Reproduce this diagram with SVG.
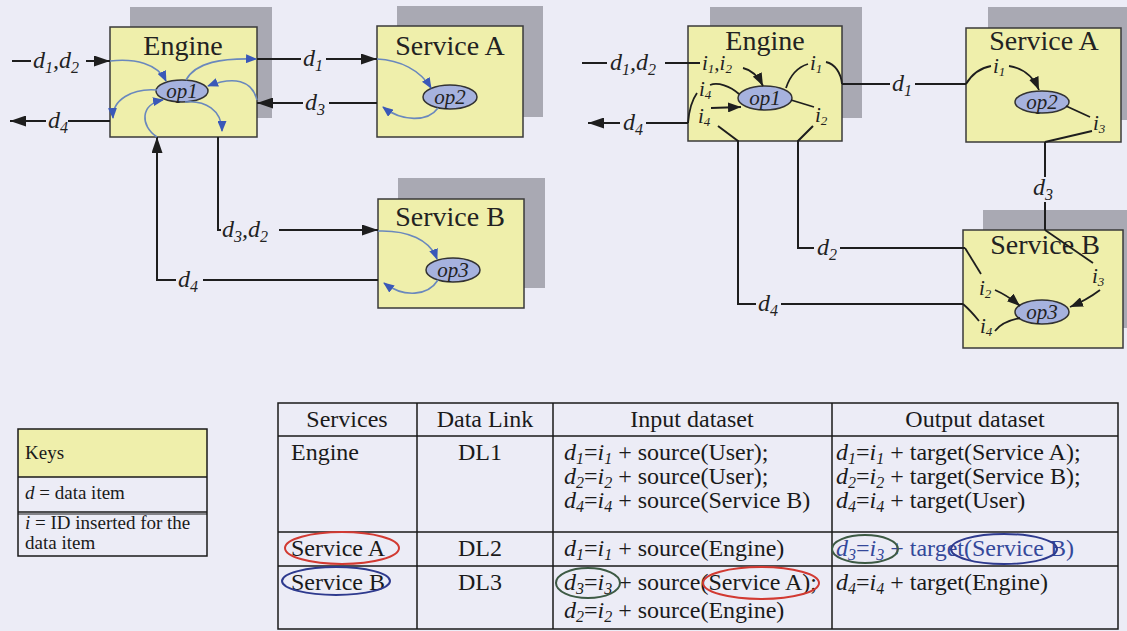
<svg xmlns="http://www.w3.org/2000/svg" width="1127" height="631" viewBox="0 0 1127 631">
<defs>
<style>
.sh{fill:#a9a9b3}
.box{fill:#efefab;stroke:#3a3a3a;stroke-width:1.5}
.op{fill:#a6b2de;stroke:#333;stroke-width:1.5}
.ttl{font-family:"Liberation Serif",serif;font-size:28px;fill:#222;text-anchor:middle}
.opl{font-family:"Liberation Serif",serif;font-size:21px;font-style:italic;fill:#222;text-anchor:middle}
.lab{font-family:"Liberation Serif",serif;font-size:24px;font-style:italic;fill:#222}
.sub{font-size:16px}
.il{font-family:"Liberation Serif",serif;font-size:21px;font-style:italic;fill:#222}
.isub{font-size:13px}
.c{fill:none;stroke:#1e1e1e;stroke-width:2}
.cs{fill:none;stroke:#1e1e1e;stroke-width:1.8}
.bc{fill:none;stroke:#6a88bd;stroke-width:1.6}
.t{font-family:"Liberation Serif",serif;font-size:24px;fill:#1a1a1a}
.k{font-family:"Liberation Serif",serif;font-size:19px;fill:#1a1a1a}
.i{font-style:italic}
.s{font-size:16px;font-style:italic}
.tl{fill:none;stroke:#1a1a1a;stroke-width:1.5}
</style>
<marker id="ah" viewBox="0 0 16 11" refX="16" refY="5.5" markerWidth="16" markerHeight="11" markerUnits="userSpaceOnUse" orient="auto"><path d="M0,0 L16,5.5 L0,11 z" fill="#1e1e1e"/></marker>
<marker id="as" viewBox="0 0 13 10" refX="13" refY="5" markerWidth="13" markerHeight="10" markerUnits="userSpaceOnUse" orient="auto"><path d="M0,0 L13,5 L0,10 z" fill="#1e1e1e"/></marker>
<marker id="ab" viewBox="0 0 11 9" refX="10" refY="4.5" markerWidth="11" markerHeight="9" markerUnits="userSpaceOnUse" orient="auto"><path d="M0,0 L11,4.5 L0,9 z" fill="#3a58b8"/></marker>
</defs>
<rect width="1127" height="631" fill="#ececf6"/>

<!-- Left diagram nodes -->
<g id="L-engine">
<rect class="sh" x="130" y="7" width="142" height="111"/>
<rect class="box" x="110" y="27" width="147" height="110"/>
<text class="ttl" x="183" y="55">Engine</text>
<ellipse class="op" cx="182" cy="91" rx="26" ry="11"/>
<text class="opl" x="182" y="98">op1</text>
</g>
<g id="L-serviceA">
<rect class="sh" x="397" y="6" width="146" height="111"/>
<rect class="box" x="377" y="26" width="146" height="111"/>
<text class="ttl" x="450" y="55">Service A</text>
<ellipse class="op" cx="450" cy="97" rx="27" ry="12"/>
<text class="opl" x="450" y="104">op2</text>
</g>
<g id="L-serviceB">
<rect class="sh" x="398" y="178" width="147" height="110"/>
<rect class="box" x="378" y="199" width="146" height="109"/>
<text class="ttl" x="450" y="226">Service B</text>
<ellipse class="op" cx="453" cy="270" rx="27" ry="12"/>
<text class="opl" x="453" y="277">op3</text>
</g>

<!-- Right diagram nodes -->
<g id="R-engine">
<rect class="sh" x="710" y="7" width="152" height="111"/>
<rect class="box" x="688" y="26" width="154" height="115"/>
<text class="ttl" x="765" y="50">Engine</text>
<ellipse class="op" cx="765" cy="98" rx="27" ry="12"/>
<text class="opl" x="765" y="105">op1</text>
</g>
<g id="R-serviceA">
<rect class="sh" x="988" y="7" width="150" height="113"/>
<rect class="box" x="966" y="28" width="155" height="114"/>
<text class="ttl" x="1044" y="50">Service A</text>
<ellipse class="op" cx="1042" cy="102" rx="27" ry="11"/>
<text class="opl" x="1042" y="109">op2</text>
</g>
<g id="R-serviceB">
<rect class="sh" x="983" y="210" width="155" height="118"/>
<rect class="box" x="963" y="230" width="160" height="118"/>
<text class="ttl" x="1045" y="254">Service B</text>
<ellipse class="op" cx="1042" cy="312" rx="27" ry="12"/>
<text class="opl" x="1042" y="319">op3</text>
</g>

<!-- Connectors -->
<g id="connectors">
<!-- left diagram black -->
<path class="c" d="M12,61 H31"/>
<path class="c" d="M86,61 H110" marker-end="url(#ah)"/>
<path class="c" d="M110,121 H68"/>
<path class="c" d="M46,121 H10" marker-end="url(#ah)"/>
<path class="c" d="M257,59 H301"/>
<path class="c" d="M326,59 H377" marker-end="url(#ah)"/>
<path class="c" d="M377,103 H329"/>
<path class="c" d="M303,103 H257" marker-end="url(#ah)"/>
<path class="c" d="M218,137 V230 H221"/>
<path class="c" d="M279,230 H378" marker-end="url(#ah)"/>
<path class="c" d="M176,280 H157 V137" marker-end="url(#ah)"/>
<path class="c" d="M203,280 H378"/>
<!-- left diagram blue -->
<path class="bc" d="M110,61 C135,58 158,64 166,81" marker-end="url(#ab)"/>
<path class="bc" d="M186,80 C196,62 222,58 256,59" marker-end="url(#ab)"/>
<path class="bc" d="M257,100 C252,80 234,76 208,86" marker-end="url(#ab)"/>
<path class="bc" d="M157,90 C132,88 112,100 113,118" marker-end="url(#ab)"/>
<path class="bc" d="M157,137 C140,126 140,104 163,100" marker-end="url(#ab)"/>
<path class="bc" d="M185,102 C205,100 222,110 222,131" marker-end="url(#ab)"/>
<path class="bc" d="M377,59 C400,60 420,70 431,88" marker-end="url(#ab)"/>
<path class="bc" d="M438,108 C428,122 402,122 383,107" marker-end="url(#ab)"/>
<path class="bc" d="M378,231 C408,230 430,240 437,259" marker-end="url(#ab)"/>
<path class="bc" d="M438,280 C428,296 404,298 384,283" marker-end="url(#ab)"/>

<!-- right diagram -->
<path class="c" d="M582,63 H607"/>
<path class="c" d="M665,63 H700"/>
<path class="cs" d="M743,68 C752,70 758,76 763,86" marker-end="url(#as)"/>
<path class="c" d="M688,123 H646"/>
<path class="c" d="M620,123 H588" marker-end="url(#ah)"/>
<path class="cs" d="M688,123 C689,110 692,100 697,93"/>
<path class="cs" d="M739,94 C730,86 718,82 710,85"/>
<path class="cs" d="M711,108 L741,107" marker-end="url(#as)"/>
<path class="c" d="M718,126 L738,141 V304 H756"/>
<path class="c" d="M781,304 H963"/>
<path class="cs" d="M963,304 C970,310 975,316 979,321"/>
<path class="cs" d="M1020,318 C1010,320 1000,324 995,331"/>
<path class="cs" d="M791,100 L814,107"/>
<path class="c" d="M813,126 L798,141 V248 H814"/>
<path class="c" d="M840,248 H965"/>
<path class="cs" d="M965,248 L981,274"/>
<path class="cs" d="M995,290 C1004,294 1012,299 1020,306" marker-end="url(#as)"/>
<path class="cs" d="M786,88 C790,76 798,67 808,64"/>
<path class="cs" d="M826,62 C835,64 841,73 842,84"/>
<path class="c" d="M842,84 H890"/>
<path class="c" d="M915,84 H966"/>
<path class="cs" d="M966,84 C972,74 980,68 991,66"/>
<path class="cs" d="M1009,66 C1022,68 1033,76 1039,90" marker-end="url(#as)"/>
<path class="cs" d="M1066,106 L1090,117"/>
<path class="cs" d="M1092,131 L1045,142"/>
<path class="c" d="M1045,142 V177"/>
<path class="c" d="M1045,202 V230"/>
<path class="cs" d="M1045,230 L1093,263"/>
<path class="cs" d="M1100,290 C1092,296 1082,302 1070,307" marker-end="url(#as)"/>
</g>

<!-- connector labels -->
<g id="labels">
<text class="lab" x="33" y="68">d<tspan class="sub" dy="5">1</tspan><tspan dy="-5">,d</tspan><tspan class="sub" dy="5">2</tspan></text>
<text class="lab" x="48" y="128">d<tspan class="sub" dy="5">4</tspan></text>
<text class="lab" x="303" y="66">d<tspan class="sub" dy="5">1</tspan></text>
<text class="lab" x="305" y="110">d<tspan class="sub" dy="5">3</tspan></text>
<text class="lab" x="222" y="237">d<tspan class="sub" dy="5">3</tspan><tspan dy="-5">,d</tspan><tspan class="sub" dy="5">2</tspan></text>
<text class="lab" x="178" y="287">d<tspan class="sub" dy="5">4</tspan></text>

<text class="lab" x="610" y="70">d<tspan class="sub" dy="5">1</tspan><tspan dy="-5">,d</tspan><tspan class="sub" dy="5">2</tspan></text>
<text class="il" x="702" y="70">i<tspan class="isub" dy="3">1</tspan><tspan dy="-3">,i</tspan><tspan class="isub" dy="3">2</tspan></text>
<text class="lab" x="623" y="130">d<tspan class="sub" dy="5">4</tspan></text>
<text class="il" x="699" y="96">i<tspan class="isub" dy="3">4</tspan></text>
<text class="il" x="698" y="123">i<tspan class="isub" dy="3">4</tspan></text>
<text class="il" x="810" y="70">i<tspan class="isub" dy="3">1</tspan></text>
<text class="il" x="815" y="122">i<tspan class="isub" dy="3">2</tspan></text>
<text class="lab" x="892" y="91">d<tspan class="sub" dy="5">1</tspan></text>
<text class="il" x="993" y="73">i<tspan class="isub" dy="3">1</tspan></text>
<text class="il" x="1093" y="130">i<tspan class="isub" dy="3">3</tspan></text>
<text class="lab" x="1033" y="195">d<tspan class="sub" dy="5">3</tspan></text>
<text class="lab" x="817" y="255">d<tspan class="sub" dy="5">2</tspan></text>
<text class="lab" x="758" y="311">d<tspan class="sub" dy="5">4</tspan></text>
<text class="il" x="979" y="295">i<tspan class="isub" dy="3">2</tspan></text>
<text class="il" x="1092" y="283">i<tspan class="isub" dy="3">3</tspan></text>
<text class="il" x="980" y="333">i<tspan class="isub" dy="3">4</tspan></text>
</g>

<!-- Keys -->
<g id="keys">
<rect x="18" y="429" width="189" height="48" fill="#efefab"/>
<rect class="tl" x="18" y="429" width="189" height="127"/>
<path class="tl" d="M18,477 H207 M18,512 H207"/>
<path d="M18,514 H207" stroke="#1a1a1a" stroke-width="1"/>
<text class="k" x="25" y="459">Keys</text>
<text class="k" x="25" y="499"><tspan class="i">d</tspan> = data item</text>
<text class="k" x="25" y="529"><tspan class="i">i</tspan> = ID inserted for the</text>
<text class="k" x="25" y="549">data item</text>
</g>

<!-- Table -->
<g id="table">
<rect class="tl" x="278" y="403" width="840" height="226"/>
<path class="tl" d="M417,403 V629 M553,403 V629 M832,403 V629 M278,436 H1118 M278,532 H1118 M278,566 H1118"/>
<text class="t" x="347" y="427" text-anchor="middle">Services</text>
<text class="t" x="485" y="427" text-anchor="middle">Data Link</text>
<text class="t" x="692" y="427" text-anchor="middle">Input dataset</text>
<text class="t" x="975" y="427" text-anchor="middle">Output dataset</text>

<text class="t" x="291" y="460">Engine</text>
<text class="t" x="480" y="460" text-anchor="middle">DL1</text>
<text class="t" x="564" y="460"><tspan class="i">d</tspan><tspan class="s" dy="4">1</tspan><tspan dy="-4">=</tspan><tspan class="i">i</tspan><tspan class="s" dy="4">1</tspan><tspan dy="-4"> + source(User);</tspan></text>
<text class="t" x="564" y="484"><tspan class="i">d</tspan><tspan class="s" dy="4">2</tspan><tspan dy="-4">=</tspan><tspan class="i">i</tspan><tspan class="s" dy="4">2</tspan><tspan dy="-4"> + source(User);</tspan></text>
<text class="t" x="564" y="508"><tspan class="i">d</tspan><tspan class="s" dy="4">4</tspan><tspan dy="-4">=</tspan><tspan class="i">i</tspan><tspan class="s" dy="4">4</tspan><tspan dy="-4"> + source(Service B)</tspan></text>
<text class="t" x="836" y="460"><tspan class="i">d</tspan><tspan class="s" dy="4">1</tspan><tspan dy="-4">=</tspan><tspan class="i">i</tspan><tspan class="s" dy="4">1</tspan><tspan dy="-4"> + target(Service A);</tspan></text>
<text class="t" x="836" y="484"><tspan class="i">d</tspan><tspan class="s" dy="4">2</tspan><tspan dy="-4">=</tspan><tspan class="i">i</tspan><tspan class="s" dy="4">2</tspan><tspan dy="-4"> + target(Service B);</tspan></text>
<text class="t" x="836" y="508"><tspan class="i">d</tspan><tspan class="s" dy="4">4</tspan><tspan dy="-4">=</tspan><tspan class="i">i</tspan><tspan class="s" dy="4">4</tspan><tspan dy="-4"> + target(User)</tspan></text>

<text class="t" x="291" y="556">Service A</text>
<text class="t" x="480" y="556" text-anchor="middle">DL2</text>
<text class="t" x="564" y="556"><tspan class="i">d</tspan><tspan class="s" dy="4">1</tspan><tspan dy="-4">=</tspan><tspan class="i">i</tspan><tspan class="s" dy="4">1</tspan><tspan dy="-4"> + source(Engine)</tspan></text>
<text class="t" x="836" y="556" style="fill:#34489a"><tspan class="i">d</tspan><tspan class="s" dy="4">3</tspan><tspan dy="-4">=</tspan><tspan class="i">i</tspan><tspan class="s" dy="4">3</tspan><tspan dy="-4"> + target(Service B)</tspan></text>

<text class="t" x="291" y="590">Service B</text>
<text class="t" x="480" y="590" text-anchor="middle">DL3</text>
<text class="t" x="564" y="590"><tspan class="i">d</tspan><tspan class="s" dy="4">3</tspan><tspan dy="-4">=</tspan><tspan class="i">i</tspan><tspan class="s" dy="4">3</tspan><tspan dy="-4"> + source(Service A);</tspan></text>
<text class="t" x="564" y="618"><tspan class="i">d</tspan><tspan class="s" dy="4">2</tspan><tspan dy="-4">=</tspan><tspan class="i">i</tspan><tspan class="s" dy="4">2</tspan><tspan dy="-4"> + source(Engine)</tspan></text>
<text class="t" x="836" y="590"><tspan class="i">d</tspan><tspan class="s" dy="4">4</tspan><tspan dy="-4">=</tspan><tspan class="i">i</tspan><tspan class="s" dy="4">4</tspan><tspan dy="-4"> + target(Engine)</tspan></text>

<ellipse cx="342" cy="548" rx="57" ry="16" fill="none" stroke="#d23a32" stroke-width="2"/>
<ellipse cx="336" cy="581" rx="54" ry="14" fill="none" stroke="#2e3a8e" stroke-width="2"/>
<ellipse cx="588" cy="583" rx="32" ry="15" fill="none" stroke="#3d5a44" stroke-width="2"/>
<ellipse cx="761" cy="583" rx="58" ry="16" fill="none" stroke="#d23a32" stroke-width="2"/>
<ellipse cx="865" cy="549" rx="33" ry="14" fill="none" stroke="#3d5a44" stroke-width="2"/>
<ellipse cx="1004" cy="549" rx="53" ry="15" fill="none" stroke="#2e3a8e" stroke-width="2"/>
</g>
</svg>
